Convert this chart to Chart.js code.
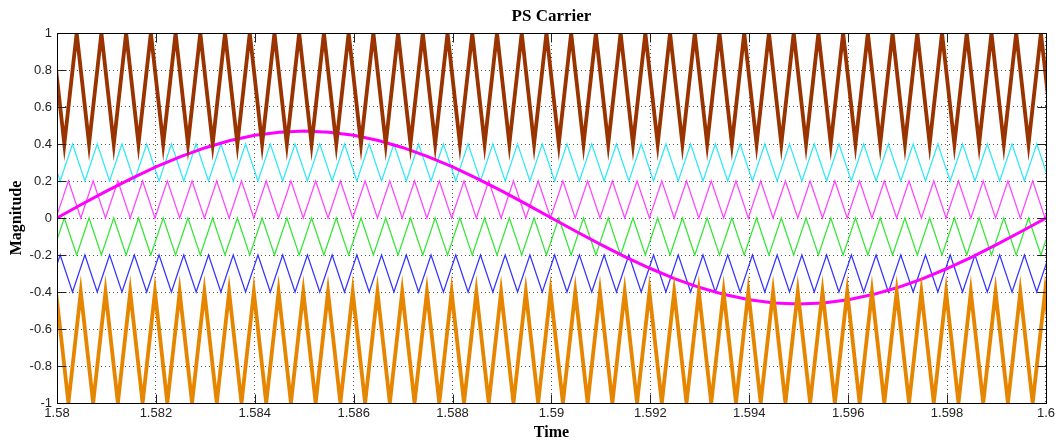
<!DOCTYPE html>
<html><head><meta charset="utf-8">
<script src="https://cdn.jsdelivr.net/npm/chart.js@4.4.1/dist/chart.umd.min.js"></script>
<style>html,body{margin:0;padding:0;background:#fff;}#c{display:block}</style>
</head><body><canvas id="c" width="1058" height="441"></canvas>
<script>
// ---- axis ticks ----
const xTickValues = [1.58,1.582,1.584,1.586,1.588,1.59,1.592,1.594,1.596,1.598,1.6];
const xTickLabels = ['1.58','1.582','1.584','1.586','1.588','1.59','1.592','1.594','1.596','1.598','1.6'];
const yTickValues = [-1,-0.8,-0.6,-0.4,-0.2,0,0.2,0.4,0.6,0.8,1];
const yTickLabels = ['-1','-0.8','-0.6','-0.4','-0.2','0','0.2','0.4','0.6','0.8','1'];

// ---- carrier vertex times (peaks/troughs) ----
const gridA = [1.579981,
1.580231,1.580481,1.580731,1.580981,1.581231,1.581481,1.581731,1.581981,
1.582231,1.582481,1.582731,1.582981,1.583231,1.583481,1.583731,1.583981,
1.584231,1.584481,1.584731,1.584981,1.585231,1.585481,1.585731,1.585981,
1.586231,1.586481,1.586731,1.586981,1.587231,1.587481,1.587731,1.587981,
1.588231,1.588481,1.588731,1.588981,1.589231,1.589481,1.589731,1.589981,
1.590231,1.590481,1.590731,1.590981,1.591231,1.591481,1.591731,1.591981,
1.592231,1.592481,1.592731,1.592981,1.593231,1.593481,1.593731,1.593981,
1.594231,1.594481,1.594731,1.594981,1.595231,1.595481,1.595731,1.595981,
1.596231,1.596481,1.596731,1.596981,1.597231,1.597481,1.597731,1.597981,
1.598231,1.598481,1.598731,1.598981,1.599231,1.599481,1.599731,1.599981,
1.600231];
const gridB = [1.579814,
1.580064,1.580314,1.580564,1.580814,1.581064,1.581314,1.581564,1.581814,
1.582064,1.582314,1.582564,1.582814,1.583064,1.583314,1.583564,1.583814,
1.584064,1.584314,1.584564,1.584814,1.585064,1.585314,1.585564,1.585814,
1.586064,1.586314,1.586564,1.586814,1.587064,1.587314,1.587564,1.587814,
1.588064,1.588314,1.588564,1.588814,1.589064,1.589314,1.589564,1.589814,
1.590064,1.590314,1.590564,1.590814,1.591064,1.591314,1.591564,1.591814,
1.592064,1.592314,1.592564,1.592814,1.593064,1.593314,1.593564,1.593814,
1.594064,1.594314,1.594564,1.594814,1.595064,1.595314,1.595564,1.595814,
1.596064,1.596314,1.596564,1.596814,1.597064,1.597314,1.597564,1.597814,
1.598064,1.598314,1.598564,1.598814,1.599064,1.599314,1.599564,1.599814,
1.600064];
const gridC = [1.579898,
1.580148,1.580398,1.580648,1.580898,1.581148,1.581398,1.581648,1.581898,
1.582148,1.582398,1.582648,1.582898,1.583148,1.583398,1.583648,1.583898,
1.584148,1.584398,1.584648,1.584898,1.585148,1.585398,1.585648,1.585898,
1.586148,1.586398,1.586648,1.586898,1.587148,1.587398,1.587648,1.587898,
1.588148,1.588398,1.588648,1.588898,1.589148,1.589398,1.589648,1.589898,
1.590148,1.590398,1.590648,1.590898,1.591148,1.591398,1.591648,1.591898,
1.592148,1.592398,1.592648,1.592898,1.593148,1.593398,1.593648,1.593898,
1.594148,1.594398,1.594648,1.594898,1.595148,1.595398,1.595648,1.595898,
1.596148,1.596398,1.596648,1.596898,1.597148,1.597398,1.597648,1.597898,
1.598148,1.598398,1.598648,1.598898,1.599148,1.599398,1.599648,1.599898,
1.600148];

// carriers: top band to bottom band
const carrierNames  = ['Carrier 1','Carrier 2','Carrier 3','Carrier 4','Carrier 5','Carrier 6'];
const carrierTimes  = [gridC, gridB, gridA, gridC, gridB, gridA];
const carrierLow    = [0.4, 0.2, 0, -0.2, -0.4, -1];
const carrierHigh   = [1, 0.4, 0.2, 0, -0.2, -0.4];
const carrierStartsAtPeak = [true, true, false, false, false, true];

// reference (modulating) wave, read at 0.5 ms steps
const sineTimes = [1.58,1.5805,1.581,1.5815,1.582,1.5825,1.583,1.5835,1.584,1.5845,1.585,
1.5855,1.586,1.5865,1.587,1.5875,1.588,1.5885,1.589,1.5895,1.59,
1.5905,1.591,1.5915,1.592,1.5925,1.593,1.5935,1.594,1.5945,1.595,
1.5955,1.596,1.5965,1.597,1.5975,1.598,1.5985,1.599,1.5995,1.6];
const sineValues = [0,0.074,0.145,0.213,0.276,0.332,0.380,0.419,0.447,0.464,0.470,
0.464,0.447,0.419,0.380,0.332,0.276,0.213,0.145,0.074,0,
-0.073,-0.144,-0.211,-0.273,-0.329,-0.376,-0.414,-0.442,-0.459,-0.465,
-0.459,-0.442,-0.414,-0.376,-0.329,-0.273,-0.211,-0.144,-0.073,0];

// ---- styles ----
const carrierColors = ['#993300','#2ee8f8','#ff44ff','#33e633','#3333ff','#e68600'];
const carrierWidths = [3.8, 1.2, 1.2, 1.2, 1.2, 3.8];
const carrierOrder  = [1, 3, 3, 3, 3, 1];

const datasets = carrierNames.map((name, c) => ({
  label: name,
  data: carrierTimes[c].map((t, i) => ({
    x: t,
    y: ((i % 2 === 0) === carrierStartsAtPeak[c]) ? carrierHigh[c] : carrierLow[c]
  })),
  borderColor: carrierColors[c],
  borderWidth: carrierWidths[c],
  pointRadius: 0,
  fill: false,
  tension: 0,
  clip: 0,
  order: carrierOrder[c]
}));
datasets.push({
  label: 'Reference',
  data: sineTimes.map((t, i) => ({x: t, y: sineValues[i]})),
  borderColor: '#ff00ff',
  borderWidth: 3,
  pointRadius: 0,
  fill: false,
  tension: 0,
  clip: 0,
  order: 2
});

const serif = '"Liberation Serif", "Times New Roman", serif';
const sans = '"Liberation Sans", Arial, sans-serif';

const frame = {
  id: 'frame',
  beforeDraw(chart) {
    const ctx = chart.ctx;
    ctx.save(); ctx.fillStyle = '#fff'; ctx.fillRect(0, 0, chart.width, chart.height); ctx.restore();
  },
  afterDraw(chart) {
    const {ctx, chartArea: a, scales} = chart;
    ctx.save();
    ctx.lineWidth = 1;
    const L = Math.round(a.left) + 0.5, R = Math.round(a.right) + 0.5;
    const T = Math.round(a.top) + 0.5, B = Math.round(a.bottom) + 0.5;
    ctx.strokeStyle = '#222';
    ctx.beginPath();
    const tl = 9;
    yTickValues.forEach(v => {
      const y = Math.round(scales.y.getPixelForValue(v)) + 0.5;
      ctx.moveTo(L, y); ctx.lineTo(L + tl, y);
      ctx.moveTo(R, y); ctx.lineTo(R - tl, y);
    });
    xTickValues.forEach(v => {
      const x = Math.round(scales.x.getPixelForValue(v)) + 0.5;
      ctx.moveTo(x, B); ctx.lineTo(x, B - tl);
      ctx.moveTo(x, T); ctx.lineTo(x, T + tl);
    });
    ctx.stroke();
    ctx.strokeStyle = '#000';
    ctx.strokeRect(L, T, R - L, B - T);
    ctx.restore();
  }
};

new Chart(document.getElementById('c'), {
  type: 'line',
  data: { datasets },
  plugins: [frame],
  options: {
    responsive: false,
    animation: false,
    devicePixelRatio: 1,
    layout: { padding: { left: 0, right: 8, top: 0, bottom: 0 } },
    plugins: {
      legend: { display: false },
      tooltip: { enabled: false },
      title: {
        display: true, text: 'PS Carrier', fullSize: false, color: '#000',
        font: { family: serif, size: 17, weight: 'bold', lineHeight: 1 },
        padding: { top: 8, bottom: 8 }
      }
    },
    scales: {
      x: {
        type: 'linear', min: 1.58, max: 1.6,
        afterBuildTicks: s => { s.ticks = xTickValues.map(v => ({ value: v })); },
        afterFit: s => { s.height = 38; },
        ticks: {
          autoSkip: false, maxRotation: 0, padding: 3, color: '#222',
          font: { family: sans, size: 13 },
          callback: (v) => { const i = xTickValues.findIndex(t => Math.abs(t - v) < 1e-9); return i >= 0 ? xTickLabels[i] : ''; }
        },
        grid: { color: '#555', lineWidth: 1, drawTicks: false },
        border: { display: false, dash: [1, 3] },
        title: { display: true, text: 'Time', color: '#000', font: { family: serif, size: 16, weight: 'bold', lineHeight: 1 }, padding: { top: 0, bottom: 0 } }
      },
      y: {
        type: 'linear', min: -1, max: 1,
        afterBuildTicks: s => { s.ticks = yTickValues.map(v => ({ value: v })); },
        afterFit: s => { s.width = 57; },
        ticks: {
          autoSkip: false, padding: 5, color: '#222',
          font: { family: sans, size: 13 },
          callback: (v) => { const i = yTickValues.findIndex(t => Math.abs(t - v) < 1e-9); return i >= 0 ? yTickLabels[i] : ''; }
        },
        grid: { color: '#555', lineWidth: 1, drawTicks: false },
        border: { display: false, dash: [1, 3] },
        title: { display: true, text: 'Magnitude', color: '#000', font: { family: serif, size: 16, weight: 'bold', lineHeight: 1 }, padding: { top: 8.5, bottom: 0 } }
      }
    }
  }
});
</script></body></html>
